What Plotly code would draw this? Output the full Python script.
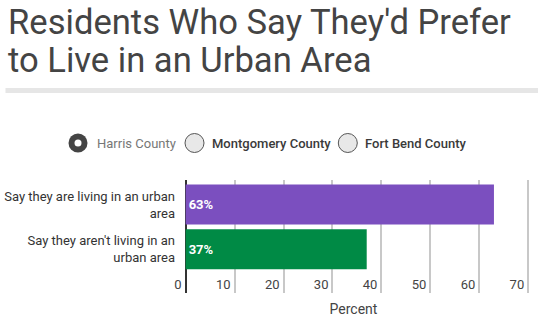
import plotly.graph_objects as go

# ---- data ----
categories = ["Say they are living in an urban<br>area", "Say they aren't living in an<br>urban area"]
values = [63, 37]
bar_colors = ["#7b4fbf", "#008a45"]
x_ticks = [0, 10, 20, 30, 40, 50, 60, 70]
title_lines = ["Residents Who Say They'd Prefer", "to Live in an Urban Area"]
legend_items = ["Harris County", "Montgomery County", "Fort Bend County"]

W, H = 538, 324
ML, MR, MT, MB = 169, 0, 180, 31
PW, PH = W - ML - MR, H - MT - MB

def px(x):
    return (x - ML) / PW

def py(y):
    return (H - MB - y) / PH

fig = go.Figure()
fig.add_trace(go.Bar(
    y=categories, x=values, orientation="h",
    marker=dict(color=bar_colors, line=dict(width=0)),
    texttemplate="%{x}%", textposition="inside", insidetextanchor="start",
    textfont=dict(family="Roboto", size=13, color="white", weight="bold"),
    hoverinfo="skip",
))

shapes = []
annotations = []

# title
for i, (line, ymid) in enumerate(zip(title_lines, [21.5, 60.5])):
    annotations.append(dict(
        text=line, xref="paper", yref="paper", x=px(6), y=py(ymid),
        xanchor="left", yanchor="middle", showarrow=False,
        font=dict(family="Roboto", size=34.6, color="#444444"),
    ))

# grey rule
shapes.append(dict(type="rect", xref="paper", yref="paper",
                   x0=px(5.5), x1=px(538), y0=py(93), y1=py(88),
                   fillcolor="#e6e6e6", line=dict(width=0), layer="above"))

# radio-button legend
circle_x = [78, 194.5, 347.8]
text_x = [95, 210, 363.3]
cy, r = 143, 9.5
for i, (name, cx, tx) in enumerate(zip(legend_items, circle_x, text_x)):
    if i == 0:
        shapes.append(dict(type="circle", xref="paper", yref="paper",
                           x0=px(cx - r), x1=px(cx + r), y0=py(cy + r), y1=py(cy - r),
                           fillcolor="#444444", line=dict(width=0)))
        shapes.append(dict(type="circle", xref="paper", yref="paper",
                           x0=px(cx - 3.5), x1=px(cx + 3.5), y0=py(cy + 3.5), y1=py(cy - 3.5),
                           fillcolor="white", line=dict(width=0)))
        color, weight = "#777777", "normal"
    else:
        shapes.append(dict(type="circle", xref="paper", yref="paper",
                           x0=px(cx - r), x1=px(cx + r), y0=py(cy + r), y1=py(cy - r),
                           fillcolor="#e8e8e8", line=dict(width=1, color="#555555")))
        color, weight = "#3a3a3a", 500
    annotations.append(dict(
        text=name, xref="paper", yref="paper", x=px(tx), y=py(cy),
        xanchor="left", yanchor="middle", showarrow=False,
        font=dict(family="Roboto", size=13, color=color, weight=weight),
    ))

fig.update_layout(
    width=W, height=H,
    margin=dict(l=ML, r=MR, t=MT, b=MB, pad=0),
    paper_bgcolor="white", plot_bgcolor="white",
    showlegend=False, bargap=0.105,
    font=dict(family="Roboto", color="#333333"),
    shapes=shapes, annotations=annotations,
)
fig.update_xaxes(
    range=[-3.4, 72], tickvals=x_ticks, ticktext=[str(t) for t in x_ticks],
    ticklabelposition="inside left", ticklabelstandoff=-5, ticklabelshift=-4,
    tickfont=dict(family="Roboto", size=13, color="#444444"),
    showgrid=True, gridcolor="#c8c8c8", gridwidth=1.5,
    zeroline=True, zerolinecolor="#333333", zerolinewidth=2,
    showline=False, ticks="",
    title=dict(text="Percent", font=dict(family="Roboto", size=14, color="#444444"), standoff=12),
)
fig.update_yaxes(
    type="category", categoryorder="array", categoryarray=categories,
    range=[1.978, -0.55], showgrid=False, zeroline=False, showline=False,
    ticks="", tickfont=dict(family="Roboto", size=13, color="#333333"),
    ticklabelstandoff=-7,
)

fig.write_html("out.html")
